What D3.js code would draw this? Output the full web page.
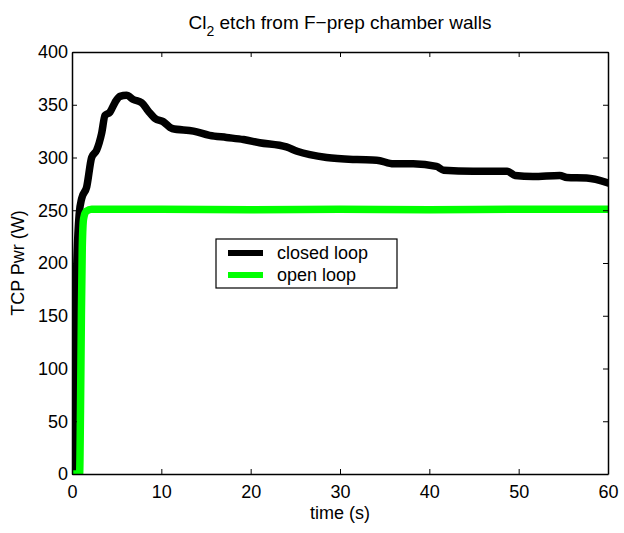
<!DOCTYPE html>
<html>
<head>
<meta charset="utf-8">
<script src="https://cdn.jsdelivr.net/npm/d3@7"></script>
<style>
  body { margin: 0; background: #fff; }
  svg text { font-family: "Liberation Sans", Arial, Helvetica, sans-serif; fill: #000; }
</style>
</head>
<body>
<div id="chart"></div>
<script>
// closed loop: [time (s), TCP power (W)]
var closedLoop = [
    [0, 0], [0.12, 0], [0.17, 32], [0.3, 94], [0.5, 187], [0.8, 246], [1.08, 261],
    [1.64, 272], [2.2, 300], [2.76, 307], [3.32, 323], [3.7, 340], [4.25, 343],
    [4.8, 352], [5.37, 358], [6.1, 359], [6.86, 355], [7.8, 352], [8.54, 344],
    [9.3, 337], [10.2, 334], [11.2, 327.5], [13.6, 325], [15.4, 321], [17.3, 319],
    [19.2, 317], [21, 314], [24, 310], [25.2, 306], [28.5, 300], [31.9, 298],
    [34.1, 297.5], [36, 294], [38.2, 294], [40.8, 291.5], [41.6, 288], [44.9, 287],
    [48.7, 287], [49.6, 283], [51.6, 282], [54.6, 283], [55.4, 281], [57.6, 280.5],
    [60, 276]
];

// open loop
var openLoop = [
    [0, 0], [0.85, 0], [0.95, 60], [1.05, 150], [1.15, 215], [1.3, 242], [1.6, 249],
    [2.2, 251], [10, 251], [20, 250.5], [30, 251], [40, 250.5], [50, 251], [60, 251]
];

var xTicks = [0, 10, 20, 30, 40, 50, 60];
var yTicks = [0, 50, 100, 150, 200, 250, 300, 350, 400];

var seriesNames = ["closed loop", "open loop"];
var seriesColors = ["#000000", "#00ff00"];

var W = 624, H = 533;
var margin = {left: 72, right: 16, top: 52, bottom: 59};

var svg = d3.select("#chart").append("svg")
    .attr("width", W).attr("height", H);

var x = d3.scaleLinear().domain([0, 60]).range([margin.left, W - margin.right]);
var y = d3.scaleLinear().domain([0, 400]).range([H - margin.bottom, margin.top]);

svg.append("defs").append("clipPath").attr("id", "plotclip")
    .append("rect")
    .attr("x", x(0)).attr("y", y(400))
    .attr("width", x(60) - x(0)).attr("height", y(0) - y(400));

var line = d3.line()
    .curve(d3.curveMonotoneX)
    .x(function(d){ return x(d[0]); })
    .y(function(d){ return y(d[1]); });

var plot = svg.append("g").attr("clip-path", "url(#plotclip)");

[closedLoop, openLoop].forEach(function(s, i){
    plot.append("path")
	.datum(s)
	.attr("d", line)
	.attr("fill", "none")
	.attr("stroke", seriesColors[i])
	.attr("stroke-width", 7.5)
	.attr("stroke-linejoin", "round")
	.attr("stroke-linecap", "round");
});

// axes, matlab style: ticks inward on all four sides
var tickLen = 5;
var fs = 18;

var axBottom = svg.append("g").attr("transform", "translate(0," + y(0) + ")")
    .call(d3.axisBottom(x).tickValues(xTicks).tickSizeInner(-tickLen).tickSizeOuter(0).tickPadding(11));
var axTop = svg.append("g").attr("transform", "translate(0," + y(400) + ")")
    .call(d3.axisTop(x).tickValues(xTicks).tickSizeInner(-tickLen).tickSizeOuter(0).tickFormat(""));
var axLeft = svg.append("g").attr("transform", "translate(" + x(0) + ",0)")
    .call(d3.axisLeft(y).tickValues(yTicks).tickSizeInner(-tickLen).tickSizeOuter(0).tickPadding(4));
var axRight = svg.append("g").attr("transform", "translate(" + x(60) + ",0)")
    .call(d3.axisRight(y).tickValues(yTicks).tickSizeInner(-tickLen).tickSizeOuter(0).tickFormat(""));

[axBottom, axTop, axLeft, axRight].forEach(function(g){
    g.select(".domain").attr("stroke", "#000").attr("stroke-width", 1.5);
    g.selectAll(".tick line").attr("stroke", "#000").attr("stroke-width", 1);
    g.selectAll(".tick text")
	.style("font-family", "'Liberation Sans', Arial, sans-serif")
	.style("font-size", fs + "px")
	.attr("fill", "#000");
});

// titles
var title = svg.append("text")
    .attr("x", (x(0) + x(60)) / 2).attr("y", 29)
    .attr("text-anchor", "middle")
    .style("font-size", "19px");
title.append("tspan").text("Cl");
title.append("tspan").attr("dy", 7).style("font-size", "14px").text("2");
title.append("tspan").attr("dy", -7).text(" etch from F\u2212prep chamber walls");

svg.append("text")
    .attr("x", (x(0) + x(60)) / 2).attr("y", 519)
    .attr("text-anchor", "middle")
    .style("font-size", fs + "px")
    .text("time (s)");

svg.append("text")
    .attr("transform", "translate(24," + ((y(0) + y(400)) / 2) + ") rotate(-90)")
    .attr("text-anchor", "middle")
    .style("font-size", fs + "px")
    .text("TCP Pwr (W)");

// legend
var legend = svg.append("g").attr("transform", "translate(216,239)");
legend.append("rect")
    .attr("width", 181).attr("height", 49)
    .attr("fill", "#fff").attr("stroke", "#000").attr("stroke-width", 1.2);

seriesNames.forEach(function(name, i){
    var ly = 14 + i * 22;
    legend.append("line")
	.attr("x1", 12).attr("x2", 47)
	.attr("y1", ly).attr("y2", ly)
	.attr("stroke", seriesColors[i]).attr("stroke-width", 6);
    legend.append("text")
	.attr("x", 61).attr("y", ly + 6)
	.style("font-size", fs + "px")
	.text(name);
});
</script>
</body>
</html>
